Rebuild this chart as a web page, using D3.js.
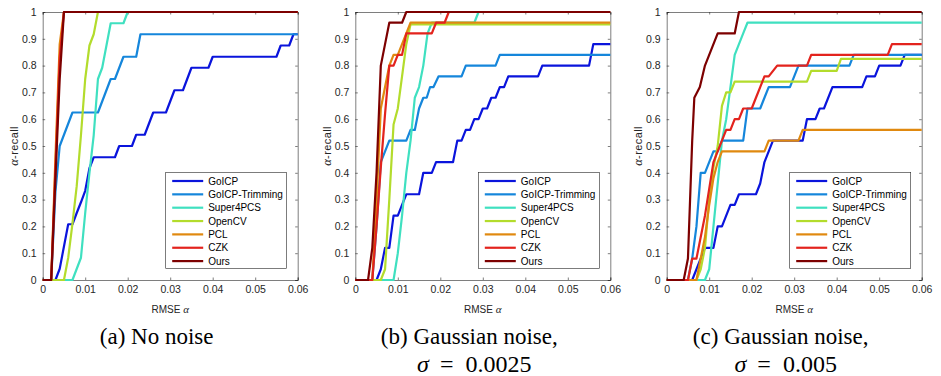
<!DOCTYPE html>
<html>
<head>
<meta charset="utf-8">
<script src="https://cdn.jsdelivr.net/npm/d3@7"></script>
<style>
  body { margin: 0; background: #fff; }
  svg { display: block; }
</style>
</head>
<body>
<div id="chart"></div>
<script>
// series names, shared by all three panels
const methods = ['GoICP', 'GoICP-Trimming', 'Super4PCS', 'OpenCV', 'PCL', 'CZK', 'Ours'];
const xTicks = [0, 0.01, 0.02, 0.03, 0.04, 0.05, 0.06];
const yTicks = [0, 0.1, 0.2, 0.3, 0.4, 0.5, 0.6, 0.7, 0.8, 0.9, 1];

// (a) no noise : [rmse, recall]
const goicpA = [[0,0],[0.003,0],[0.004,0.042],[0.006,0.208],[0.007,0.208],[0.008,0.25],[0.009,0.29],[0.010,0.333],[0.011,0.417],[0.012,0.458],[0.017,0.458],[0.018,0.5],[0.021,0.5],[0.022,0.542],[0.024,0.542],[0.026,0.625],[0.029,0.625],[0.031,0.708],[0.033,0.708],[0.035,0.792],[0.039,0.792],[0.040,0.833],[0.055,0.833],[0.056,0.875],[0.058,0.875],[0.059,0.917],[0.06,0.917]];
const trimA = [[0,0],[0.002,0],[0.003,0.33],[0.004,0.5],[0.007,0.625],[0.013,0.625],[0.016,0.75],[0.017,0.75],[0.019,0.833],[0.022,0.833],[0.023,0.917],[0.06,0.917]];
const super4A = [[0,0],[0.007,0],[0.009,0.083],[0.010,0.25],[0.011,0.4],[0.012,0.54],[0.013,0.75],[0.014,0.792],[0.016,0.958],[0.019,0.958],[0.020,1],[0.06,1]];
const opencvA = [[0,0],[0.005,0],[0.006,0.083],[0.007,0.21],[0.008,0.35],[0.009,0.54],[0.010,0.75],[0.011,0.875],[0.012,0.917],[0.013,1],[0.06,1]];
const pclA = [[0,0],[0.002,0],[0.003,0.46],[0.004,0.88],[0.005,1],[0.06,1]];
const czkA = [[0,0],[0.002,0],[0.003,0.42],[0.004,0.83],[0.005,1],[0.06,1]];
const oursA = [[0,0],[0.002,0],[0.003,0.38],[0.004,0.75],[0.005,1],[0.06,1]];

// (b) gaussian noise 0.0025
const goicpB = [[0,0],[0.005,0],[0.006,0.04],[0.007,0.12],[0.008,0.12],[0.009,0.24],[0.010,0.24],[0.012,0.32],[0.015,0.32],[0.016,0.40],[0.018,0.40],[0.019,0.44],[0.023,0.44],[0.024,0.52],[0.025,0.52],[0.026,0.56],[0.027,0.56],[0.028,0.60],[0.029,0.60],[0.030,0.64],[0.031,0.64],[0.032,0.68],[0.033,0.68],[0.034,0.72],[0.035,0.72],[0.036,0.76],[0.043,0.76],[0.044,0.80],[0.055,0.80],[0.056,0.88],[0.06,0.88]];
const trimB = [[0,0],[0.004,0],[0.005,0.2],[0.006,0.44],[0.007,0.48],[0.008,0.52],[0.012,0.52],[0.013,0.56],[0.014,0.56],[0.015,0.64],[0.016,0.68],[0.0168,0.68],[0.0176,0.72],[0.0184,0.72],[0.0196,0.76],[0.025,0.76],[0.026,0.80],[0.033,0.80],[0.034,0.84],[0.06,0.84]];
const super4B = [[0,0],[0.009,0],[0.010,0.1],[0.011,0.24],[0.012,0.4],[0.013,0.52],[0.014,0.68],[0.015,0.72],[0.016,0.8],[0.017,0.92],[0.018,0.96],[0.028,0.96],[0.029,1],[0.06,1]];
const opencvB = [[0,0],[0.006,0],[0.007,0.04],[0.008,0.3],[0.009,0.58],[0.010,0.64],[0.011,0.76],[0.012,0.88],[0.013,0.954],[0.06,0.954]];
const pclB = [[0,0],[0.004,0],[0.005,0.3],[0.006,0.64],[0.007,0.72],[0.008,0.8],[0.009,0.84],[0.010,0.84],[0.012,0.92],[0.013,0.96],[0.06,0.96]];
const czkB = [[0,0],[0.004,0],[0.005,0.2],[0.006,0.42],[0.007,0.62],[0.008,0.8],[0.009,0.8],[0.010,0.84],[0.011,0.84],[0.012,0.92],[0.018,0.92],[0.019,0.96],[0.021,0.96],[0.022,1],[0.06,1]];
const oursB = [[0,0],[0.003,0],[0.004,0.12],[0.005,0.4],[0.006,0.8],[0.007,0.88],[0.008,0.96],[0.011,0.96],[0.012,1],[0.06,1]];

// (c) gaussian noise 0.005
const goicpC = [[0,0],[0.006,0],[0.009,0.12],[0.011,0.12],[0.012,0.2],[0.013,0.2],[0.015,0.28],[0.016,0.28],[0.017,0.32],[0.021,0.32],[0.022,0.36],[0.023,0.44],[0.024,0.48],[0.025,0.52],[0.032,0.52],[0.033,0.6],[0.035,0.6],[0.036,0.64],[0.037,0.64],[0.039,0.72],[0.046,0.72],[0.047,0.76],[0.049,0.76],[0.050,0.80],[0.055,0.80],[0.056,0.84],[0.06,0.84]];
const trimC = [[0,0],[0.005,0],[0.006,0.08],[0.007,0.2],[0.008,0.4],[0.009,0.4],[0.011,0.48],[0.012,0.48],[0.013,0.52],[0.018,0.52],[0.019,0.64],[0.022,0.64],[0.023,0.68],[0.024,0.72],[0.029,0.72],[0.031,0.8],[0.043,0.8],[0.044,0.84],[0.06,0.84]];
const super4C = [[0,0],[0.009,0],[0.010,0.04],[0.011,0.2],[0.012,0.36],[0.013,0.52],[0.014,0.6],[0.015,0.72],[0.016,0.84],[0.017,0.88],[0.018,0.92],[0.019,0.96],[0.06,0.96]];
const opencvC = [[0,0],[0.007,0],[0.008,0.04],[0.009,0.12],[0.010,0.3],[0.011,0.42],[0.012,0.5],[0.013,0.65],[0.014,0.7],[0.015,0.7],[0.016,0.74],[0.033,0.74],[0.034,0.78],[0.040,0.78],[0.041,0.825],[0.06,0.825]];
const pclC = [[0,0],[0.007,0],[0.008,0.08],[0.009,0.16],[0.010,0.28],[0.011,0.38],[0.012,0.44],[0.013,0.48],[0.023,0.48],[0.024,0.52],[0.031,0.52],[0.032,0.56],[0.06,0.56]];
const czkC = [[0,0],[0.005,0],[0.006,0.08],[0.007,0.08],[0.009,0.24],[0.011,0.44],[0.012,0.48],[0.013,0.52],[0.014,0.56],[0.015,0.56],[0.016,0.6],[0.017,0.6],[0.018,0.64],[0.020,0.64],[0.021,0.68],[0.022,0.72],[0.023,0.76],[0.024,0.76],[0.026,0.8],[0.033,0.8],[0.034,0.84],[0.052,0.84],[0.053,0.88],[0.06,0.88]];
const oursC = [[0,0],[0.004,0],[0.005,0.08],[0.006,0.52],[0.0065,0.68],[0.0078,0.72],[0.009,0.8],[0.012,0.92],[0.016,0.92],[0.017,1],[0.06,1]];

const colors = ['#0a14dc', '#1586db', '#3fe0c0', '#b3dc2c', '#e0890f', '#e3231d', '#7d0000'];

const panels = [
  { left: 42.7, series: [goicpA, trimA, super4A, opencvA, pclA, czkA, oursA], cap: ['(a) No noise'] },
  { left: 355.3, series: [goicpB, trimB, super4B, opencvB, pclB, czkB, oursB], cap: ['(b) Gaussian noise,', '0.0025'] },
  { left: 666.7, series: [goicpC, trimC, super4C, opencvC, pclC, czkC, oursC], cap: ['(c) Gaussian noise,', '0.005'] }
];

const W = 941, H = 376;
const plotTop = 12, pw = 255, ph = 268;
const axisColor = '#262626';
const serif = '"Liberation Serif", "Times New Roman", serif';

const svg = d3.select('#chart').append('svg')
  .attr('width', W)
  .attr('height', H)
  .style('font-family', '"Liberation Sans", Arial, sans-serif');

svg.append('rect').attr('width', W).attr('height', H).attr('fill', '#fff');

const x = d3.scaleLinear().domain([0, 0.06]).range([0, pw]);
const y = d3.scaleLinear().domain([0, 1]).range([ph, 0]);
const line = d3.line().x(d => x(d[0])).y(d => y(d[1]));

panels.forEach((p) => {
  const g = svg.append('g').attr('transform', 'translate(' + p.left + ',' + plotTop + ')');

  // axes, matlab style ticks pointing inward
  const xa = g.append('g').attr('transform', 'translate(0,' + ph + ')')
    .call(d3.axisBottom(x).tickValues(xTicks).tickSize(-2.5).tickPadding(6).tickFormat(d => d === 0 ? '0' : d3.format('.2f')(d)));
  const xt = g.append('g')
    .call(d3.axisTop(x).tickValues(xTicks).tickSize(-2.5).tickFormat(''));
  const ya = g.append('g')
    .call(d3.axisLeft(y).tickValues(yTicks).tickSize(-2.5).tickPadding(6).tickFormat(d => d === 0 ? '0' : d === 1 ? '1' : d3.format('.1f')(d)));
  const yr = g.append('g').attr('transform', 'translate(' + pw + ',0)')
    .call(d3.axisRight(y).tickValues(yTicks).tickSize(-2.5).tickFormat(''));
  [xa, xt, ya, yr].forEach(a => {
    a.selectAll('path').attr('stroke', axisColor).attr('stroke-width', 0.6);
    a.selectAll('line').attr('stroke', axisColor).attr('stroke-width', 0.6);
    a.selectAll('text').attr('fill', axisColor).style('font-size', '10.5px').style('font-family', '"Liberation Sans", Arial, sans-serif');
  });

  // curves
  p.series.forEach((s, i) => {
    g.append('path')
      .datum(s)
      .attr('d', line)
      .attr('fill', 'none')
      .attr('stroke', colors[i])
      .attr('stroke-width', 2.2)
      .attr('stroke-linejoin', 'round');
  });

  // legend
  const lg = g.append('g').attr('transform', 'translate(' + (pw - 132) + ',160.3)');
  lg.append('rect')
    .attr('width', 121).attr('height', 96)
    .attr('fill', '#fff').attr('stroke', axisColor).attr('stroke-width', 0.6);
  methods.forEach((m, i) => {
    const yy = 8.7 + i * 13.35;
    lg.append('line')
      .attr('x1', 6.5).attr('x2', 37.5).attr('y1', yy).attr('y2', yy)
      .attr('stroke', colors[i]).attr('stroke-width', 2.2);
    lg.append('text')
      .attr('x', 42.5).attr('y', yy + 3.6)
      .style('font-size', '10px')
      .attr('fill', '#000')
      .text(m);
  });

  // axis titles
  const xl = g.append('text')
    .attr('x', pw / 2).attr('y', ph + 33)
    .attr('text-anchor', 'middle')
    .attr('fill', axisColor)
    .style('font-size', '10px');
  xl.append('tspan').text('RMSE ');
  xl.append('tspan').style('font-family', serif).style('font-style', 'italic').style('font-size', '11px').text('α');

  const yl = g.append('text')
    .attr('transform', 'translate(-24.5,' + (ph / 2) + ') rotate(-90)')
    .attr('text-anchor', 'middle')
    .attr('fill', axisColor)
    .style('font-size', '11px')
    .style('letter-spacing', '0.4px');
  yl.append('tspan').style('font-family', serif).style('font-style', 'italic').style('font-size', '12.5px').text('α');
  yl.append('tspan').text('-recall');

  // caption, centred a little left of the axes
  const cx = p.left + pw / 2;
  svg.append('text')
    .attr('x', cx - 13.5).attr('y', 344)
    .attr('text-anchor', 'middle')
    .style('font-family', serif)
    .style('font-size', '23px')
    .attr('fill', '#000')
    .text(p.cap[0]);
  if (p.cap[1]) {
    const c2 = svg.append('text')
      .attr('x', cx - 8.5).attr('y', 372)
      .attr('text-anchor', 'middle')
      .style('font-family', serif)
      .style('font-size', '24px')
      .attr('fill', '#000');
    c2.append('tspan').style('font-style', 'italic').text('σ');
    c2.append('tspan').attr('dx', 11).text('=');
    c2.append('tspan').attr('dx', 12).text(p.cap[1]);
  }
});
</script>
</body>
</html>
